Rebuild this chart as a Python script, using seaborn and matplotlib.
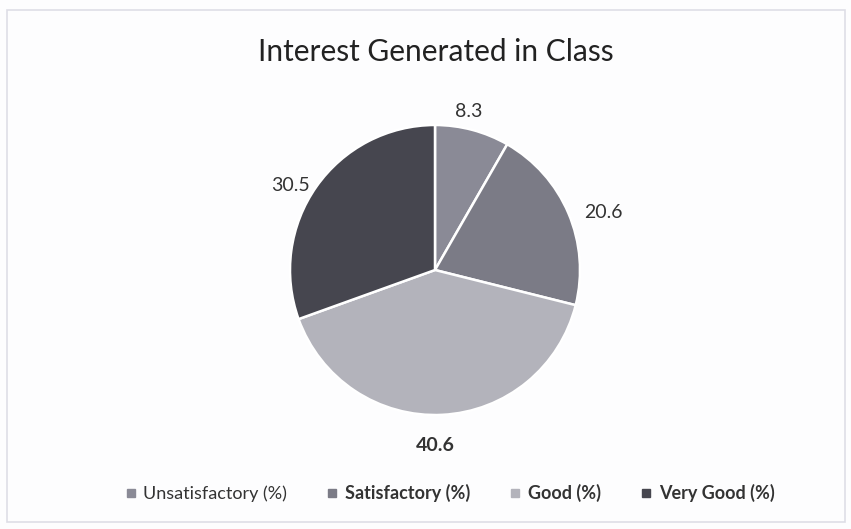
import matplotlib
matplotlib.use('Agg')
import matplotlib.pyplot as plt
import seaborn as sns
from matplotlib.patches import Rectangle

# chart data
categories = ['Unsatisfactory (%)', 'Satisfactory (%)', 'Good (%)', 'Very Good (%)']
values = [8.3, 20.6, 40.6, 30.5]
colours = ['#8a8a96', '#7b7b86', '#b3b3bb', '#46464f']
bold_label = [False, False, True, False]
bold_legend = [False, True, True, True]

sns.set_theme(style='white')
plt.rcParams['font.family'] = ['Lato', 'DejaVu Sans']

fig = plt.figure(figsize=(8.51, 5.29), dpi=100)
fig.patch.set_facecolor('#fdfdfe')

# thin outer frame like the Excel chart area
fig.add_artist(Rectangle((7 / 851, 1 - 522 / 529), 838 / 851, 512 / 529,
                         transform=fig.transFigure, fill=False,
                         edgecolor='#dedee6', linewidth=1.2))

# square axes, pie radius 145 px centred at (435, 270)
ax = fig.add_axes([(435 - 145) / 851, (529 - 270 - 145) / 529, 290 / 851, 290 / 529])
ax.set_facecolor('none')

wedges, texts = ax.pie(values, colors=colours, startangle=90, counterclock=False,
                       labels=[str(v) for v in values], labeldistance=1.17,
                       wedgeprops=dict(edgecolor='white', linewidth=1.8),
                       textprops=dict(fontsize=14, color='#333333'))
ax.set_xlim(-1, 1)
ax.set_ylim(-1, 1)
ax.set_aspect('equal')

# nudge labels to where Excel put them
for t, b in zip(texts, bold_label):
    if b:
        t.set_fontweight('bold')
    t.set_ha('center')
    t.set_va('center')
texts[0].set_position((0.23, 1.09))
texts[1].set_position((1.16, 0.40))
texts[2].set_position((0.0, -1.21))
texts[3].set_position((-1.0, 0.58))

fig.text(436 / 851, 1 - 52 / 529, 'Interest Generated in Class',
         ha='center', va='center', fontsize=21.5, color='#222222')

handles = [plt.Line2D([], [], marker='s', linestyle='none', markersize=6,
                      color=c) for c in colours]
leg = fig.legend(handles, categories, loc='center', ncol=4,
                 bbox_to_anchor=(448 / 851, 1 - 493 / 529), frameon=False,
                 fontsize=13, handletextpad=0.2, columnspacing=2.0,
                 handlelength=1.0)
for t, b in zip(leg.get_texts(), bold_legend):
    t.set_color('#333333')
    if b:
        t.set_fontweight('bold')

fig.savefig('out.png', dpi=100, facecolor=fig.get_facecolor())
